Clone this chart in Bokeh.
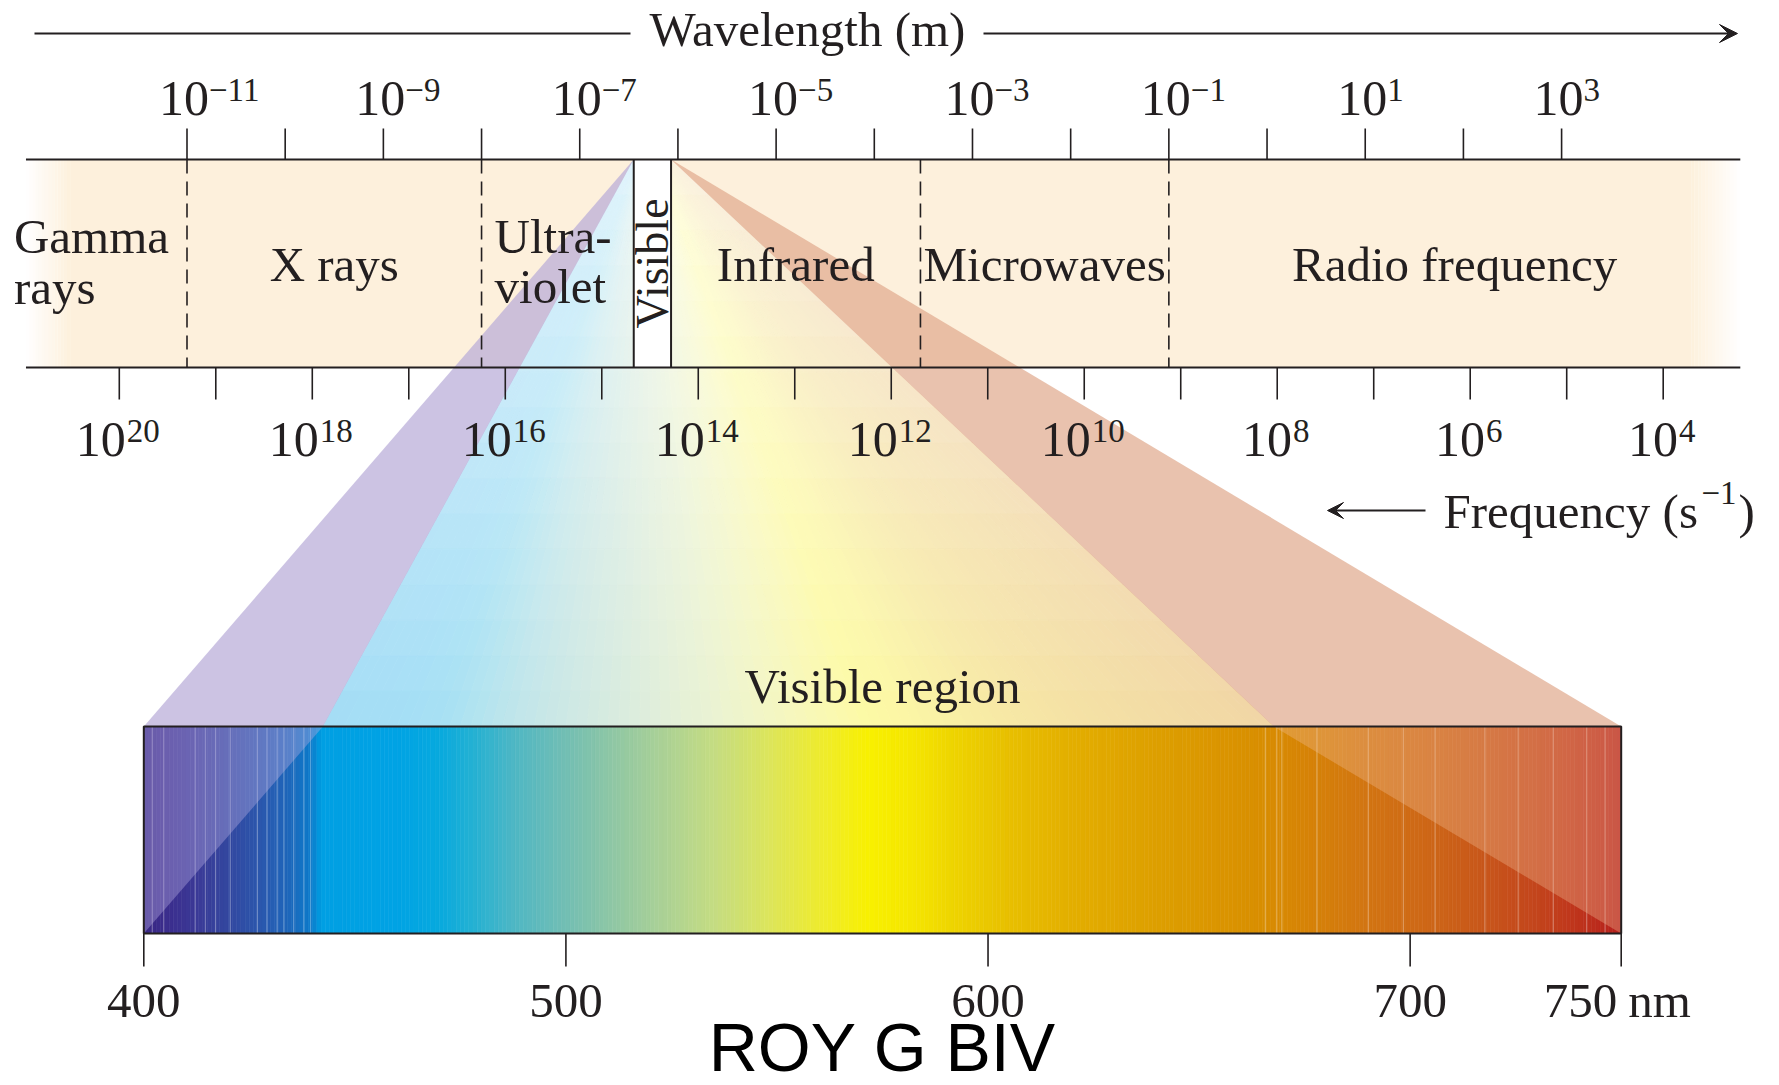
import numpy as np
from bokeh.plotting import figure
from bokeh.models import Range1d, ColumnDataSource, Arrow, VeeHead
from bokeh.core.properties import value
from bokeh.embed import file_html
from bokeh.resources import INLINE

# ---------------- chart data ----------------
wl_major = [-11, -9, -7, -5, -3, -1, 1, 3]            # log10 wavelength (m), labelled
wl_minor = [-10, -8, -6, -4, -2, 0, 2]                # log10 wavelength (m), unlabelled
fq_major = [20, 18, 16, 14, 12, 10, 8, 6, 4]         # log10 frequency (s^-1), labelled
fq_minor = [19, 17, 15, 13, 11, 9, 7, 5]
region_names = ["Gamma\nrays", "X rays", "Ultra-\nviolet", "Visible",
                "Infrared", "Microwaves", "Radio frequency"]
region_edges = [-12.64, -11.0, -8.0, -6.45, -6.07, -3.53, -1.0, 4.82]   # log10 m
nm_ticks = [400, 500, 600, 700, 750]
nm_labels = ["400", "500", "600", "700", "750"]
nm_unit = "nm"
spec_nm = [400, 405, 412, 420, 428, 435, 440, 442, 460, 470, 478, 488, 498, 510,
           522, 535, 548, 562, 572, 582, 592, 604, 620, 640, 662, 675, 690, 705,
           720, 735, 745, 750]
spec_hex = ["#3a2784", "#3b2d8c", "#3b3896", "#33479f", "#2a58ae", "#1c68bc", "#0a7ccb",
            "#009fe3", "#00a3e4", "#07a9de", "#24b1d3", "#4fb7c4", "#6dbdb6", "#8cc6a6",
            "#a9d097", "#c4dc82", "#dce55c", "#f0ec28", "#f8f000", "#f5e600", "#eed400",
            "#e8c100", "#e3ae00", "#dd9f00", "#d99000", "#d68406", "#d27412", "#cd6617",
            "#c7531b", "#c13d1c", "#bb2a1c", "#b41f1c"]
stripe_nm = [402.0, 404.7, 412.2, 414.6, 417.0, 420.5, 426.9, 429.2, 431.6, 433.2,
             435.5, 437.9, 439.5, 665.7, 668.4, 669.6, 677.9, 690.1, 698.4, 705.9,
             717.7, 725.6, 733.9, 741.8, 746.2]

# ---------------- layout ----------------
W, H = 1779, 1085
PX0, PX1 = 0, W
PY0, PY1 = 0, H
Y_WL_ARROW, Y_WL_TITLE = 33, 45
Y_TOP_LAB, Y_TOP_EXP = 115, 100
Y_TICK_TOP = 128
BAND_TOP, BAND_BOT = 159, 367
Y_TICK_BOT = 399
Y_BOT_LAB, Y_BOT_EXP = 456, 441
Y_FQ_ARROW, Y_FQ_TITLE, Y_FQ_EXP = 510, 527, 503
Y_VIS_TITLE = 702
RECT_TOP, RECT_BOT = 726, 933
Y_NM_TICK = 966
Y_NM_LAB = 1016
Y_ROY = 1069

INK = "#231f20"
PEACH = "#fdf0dc"
SERIF = value("Liberation Serif")
FS, OFF = "49px", -16
FS_BASE, OFF_BASE = "50px", -17
FS_EXP, OFF_EXP = "33px", -11


def calibrated(px_a, v_a, px_b, v_b):
    k = (v_b - v_a) / (px_b - px_a)
    return Range1d(start=v_a + (PX0 - px_a) * k, end=v_a + (PX1 - px_a) * k)


wl_rng = calibrated(186.5, -11, 1561.1, 3)
fq_rng = calibrated(118.8, 20, 1662.7, 4)
nm_rng = calibrated(143.3, 400, 1620.7, 750)


def to_px(v, r):
    return PX0 + (v - r.start) / (r.end - r.start) * (PX1 - PX0)


def from_px(x, r):
    return r.start + (x - PX0) / (PX1 - PX0) * (r.end - r.start)


def hex_rgb(h):
    return np.array([int(h[i:i + 2], 16) for i in (1, 3, 5)], float)


spec_rgb = np.array([hex_rgb(h) for h in spec_hex])


def spec_color(nm, white=0.0):
    c = np.array([np.interp(nm, spec_nm, spec_rgb[:, j]) for j in range(3)])
    c = c * (1 - white) + 255 * white
    return "#%02x%02x%02x" % tuple(int(round(v)) for v in c)


p = figure(width=W, height=H, x_range=Range1d(PX0, PX1), y_range=Range1d(PY1, PY0),
           x_axis_location=None, y_axis_location=None, toolbar_location=None,
           output_backend="svg", min_border=0, outline_line_color=None,
           background_fill_color="white", border_fill_color="white")
p.extra_x_ranges = {"wl": wl_rng, "fq": fq_rng, "nm": nm_rng}
p.xgrid.visible = False
p.ygrid.visible = False

# ---- band fill with faded ends ----
b0, b1 = region_edges[0], region_edges[-1]
fl_w, fr_w, nf = 0.45, 0.5, 14
ql, qr, qa = [b0 + fl_w], [b1 - fr_w], [1.0]
for i in range(nf):
    ql.append(b0 + fl_w * i / nf); qr.append(b0 + fl_w * (i + 1) / nf); qa.append((i + 0.5) / nf)
    ql.append(b1 - fr_w * (i + 1) / nf); qr.append(b1 - fr_w * i / nf); qa.append((i + 0.5) / nf)
p.quad(left=ql, right=qr, top=BAND_TOP, bottom=BAND_BOT, fill_color=PEACH,
       fill_alpha=qa, line_color=None, x_range_name="wl")

# ---- visible spectrum rectangle ----
nm_l = np.arange(nm_ticks[0], nm_ticks[-1], 1.0)
nm_cols = [spec_color(v + 0.5) for v in nm_l]
p.quad(left=list(nm_l), right=list(nm_l + 1), top=RECT_TOP, bottom=RECT_BOT,
       fill_color=nm_cols, line_color=nm_cols, line_width=0.6, x_range_name="nm")
p.segment(x0=stripe_nm, x1=stripe_nm, y0=RECT_TOP, y1=RECT_BOT, line_color="white",
          line_alpha=0.3, line_width=1.2, x_range_name="nm")

# ---- fan from the visible band to the spectrum ----
vl, vr = to_px(region_edges[3], wl_rng), to_px(region_edges[4], wl_rng)
rx0, rx1 = to_px(nm_ticks[0], nm_rng), to_px(nm_ticks[-1], nm_rng)
tf = (RECT_TOP - BAND_BOT) / (RECT_BOT - BAND_BOT)
fl = vl + (rx0 - vl) * tf
fr = vr + (rx1 - vr) * tf
N, K = 90, 16
sx, sy, sc = [], [], []
for i in range(N):
    s0, s1 = i / N, (i + 1) / N
    t_a, t_b = vl + (vr - vl) * s0, vl + (vr - vl) * s1
    b_a, b_b = fl + (fr - fl) * s0, fl + (fr - fl) * s1
    nm_mid = from_px((b_a + b_b) / 2, nm_rng)
    for k in range(K):
        u0, u1 = k / K, (k + 1) / K
        y0 = BAND_TOP + (RECT_TOP - BAND_TOP) * u0
        y1 = BAND_TOP + (RECT_TOP - BAND_TOP) * u1
        sx.append([t_a + (b_a - t_a) * u0, t_b + (b_b - t_b) * u0,
                   t_b + (b_b - t_b) * u1, t_a + (b_a - t_a) * u1])
        sy.append([y0, y0, y1, y1])
        sc.append(spec_color(nm_mid, 0.88 - 0.24 * (u0 + u1) / 2))
p.patches(xs=sx, ys=sy, fill_color=sc, line_color=sc, line_width=0.8)

p.patch(x=[vl, rx0, fl], y=[BAND_TOP, RECT_TOP, RECT_TOP], fill_color="#b8acd8",
        fill_alpha=0.72, line_color=None)
p.patch(x=[rx0, rx0, fl], y=[RECT_TOP, RECT_BOT, RECT_TOP], fill_color="#b4aae1",
        fill_alpha=0.4, line_color=None)
p.patch(x=[vr, rx1, fr], y=[BAND_TOP, RECT_TOP, RECT_TOP], fill_color="#e0a88c",
        fill_alpha=0.7, line_color=None)
p.patch(x=[rx1, rx1, fr], y=[RECT_TOP, RECT_BOT, RECT_TOP], fill_color="#f0be96",
        fill_alpha=0.35, line_color=None)

# ---- visible slot in the band ----
p.quad(left=[region_edges[3]], right=[region_edges[4]], top=BAND_TOP, bottom=BAND_BOT,
       fill_color="white", line_color=None, x_range_name="wl")
p.segment(x0=region_edges[3:5], x1=region_edges[3:5], y0=BAND_TOP, y1=BAND_BOT,
          line_color=INK, line_width=2, x_range_name="wl")

# ---- band outline and region boundaries ----
p.segment(x0=[b0, b0], x1=[b1, b1], y0=[BAND_TOP, BAND_BOT], y1=[BAND_TOP, BAND_BOT],
          line_color=INK, line_width=2.2, x_range_name="wl")
dashed = [region_edges[1], region_edges[2], region_edges[5], region_edges[6]]
p.segment(x0=dashed, x1=dashed, y0=BAND_TOP, y1=BAND_BOT, line_color=INK,
          line_width=1.6, line_dash="14 8", x_range_name="wl")

# ---- wavelength axis (top) ----
wl_all = wl_major + wl_minor
p.segment(x0=wl_all, x1=wl_all, y0=Y_TICK_TOP, y1=BAND_TOP, line_color=INK,
          line_width=1.6, x_range_name="wl")
p.text(x=wl_major, y=Y_TOP_LAB, text=["10"] * len(wl_major), x_offset=-3, y_offset=OFF_BASE,
       text_align="center", text_baseline="alphabetic", text_font=SERIF,
       text_font_size=FS_BASE, text_color=INK, x_range_name="wl")
p.text(x=wl_major, y=Y_TOP_EXP, text=[str(v).replace("-", "\u2212") for v in wl_major],
       x_offset=22, y_offset=OFF_EXP, text_align="left", text_baseline="alphabetic",
       text_font=SERIF, text_font_size=FS_EXP, text_color=INK, x_range_name="wl")

# ---- frequency axis (bottom of band) ----
fq_all = fq_major + fq_minor
p.segment(x0=fq_all, x1=fq_all, y0=BAND_BOT, y1=Y_TICK_BOT, line_color=INK,
          line_width=1.6, x_range_name="fq")
fq_exp = [str(v) for v in fq_major]
fq_off = [25 - 8.25 * len(e) - 2 for e in fq_exp]
fsrc = ColumnDataSource(dict(x=fq_major, b=["10"] * len(fq_major), e=fq_exp,
                             o=fq_off, o2=[v + 1 for v in fq_off]))
p.text(source=fsrc, x="x", y=Y_BOT_LAB, text="b", x_offset="o", y_offset=OFF_BASE,
       text_align="right", text_baseline="alphabetic", text_font=SERIF,
       text_font_size=FS_BASE, text_color=INK, x_range_name="fq")
p.text(source=fsrc, x="x", y=Y_BOT_EXP, text="e", x_offset="o2", y_offset=OFF_EXP,
       text_align="left", text_baseline="alphabetic", text_font=SERIF,
       text_font_size=FS_EXP, text_color=INK, x_range_name="fq")

# ---- region labels ----
mid = lambda i: (region_edges[i] + region_edges[i + 1]) / 2
g1, g2 = region_names[0].split("\n")
u1, u2 = region_names[2].split("\n")
p.text(x=[b0, b0], y=[252, 303], text=[g1, g2], x_offset=-12, y_offset=OFF,
       text_align="left", text_baseline="alphabetic", text_font=SERIF,
       text_font_size=FS, text_color=INK, x_range_name="wl")
p.text(x=[region_edges[2], region_edges[2]], y=[252, 302], text=[u1, u2], x_offset=13,
       y_offset=OFF, text_align="left", text_baseline="alphabetic", text_font=SERIF,
       text_font_size=FS, text_color=INK, x_range_name="wl")
ci = [1, 4, 5, 6]
p.text(x=[mid(i) for i in ci], y=280, text=[region_names[i] for i in ci], y_offset=OFF,
       text_align="center", text_baseline="alphabetic", text_font=SERIF,
       text_font_size=FS, text_color=INK, x_range_name="wl")
p.text(x=[mid(3)], y=[(BAND_TOP + BAND_BOT) / 2], text=[region_names[3]], angle=np.pi / 2,
       text_align="center", text_baseline="middle", text_font=SERIF,
       text_font_size="46px", text_color=INK, x_range_name="wl")

# ---- axis titles ----
p.segment(x0=[34], x1=[630], y0=Y_WL_ARROW, y1=Y_WL_ARROW, line_color=INK, line_width=2.2)
p.add_layout(Arrow(end=VeeHead(size=18, fill_color=INK, line_color=INK),
                   x_start=983, y_start=Y_WL_ARROW, x_end=1737, y_end=Y_WL_ARROW,
                   line_color=INK, line_width=2.2))
p.text(x=[807], y=[Y_WL_TITLE], text=["Wavelength (m)"], y_offset=OFF, text_align="center",
       text_baseline="alphabetic", text_font=SERIF, text_font_size=FS, text_color=INK)

p.add_layout(Arrow(end=VeeHead(size=16, fill_color=INK, line_color=INK),
                   x_start=1425, y_start=Y_FQ_ARROW, x_end=1327, y_end=Y_FQ_ARROW,
                   line_color=INK, line_width=2.0))
p.text(x=[1443, 1738], y=[Y_FQ_TITLE, Y_FQ_TITLE], text=["Frequency (s", ")"],
       y_offset=OFF, text_align="left", text_baseline="alphabetic", text_font=SERIF,
       text_font_size=FS, text_color=INK)
p.text(x=[1701], y=[Y_FQ_EXP], text=["\u22121"], y_offset=OFF_EXP, text_align="left",
       text_baseline="alphabetic", text_font=SERIF, text_font_size=FS_EXP, text_color=INK)

# ---- spectrum outline, nm axis ----
p.quad(left=[nm_ticks[0]], right=[nm_ticks[-1]], top=RECT_TOP, bottom=RECT_BOT,
       fill_color=None, line_color=INK, line_width=2, x_range_name="nm")
p.segment(x0=nm_ticks, x1=nm_ticks, y0=RECT_BOT, y1=Y_NM_TICK, line_color=INK,
          line_width=1.6, x_range_name="nm")
p.text(x=nm_ticks[:-1], y=Y_NM_LAB, text=nm_labels[:-1], y_offset=OFF, text_align="center",
       text_baseline="alphabetic", text_font=SERIF, text_font_size=FS,
       text_color=INK, x_range_name="nm")
p.text(x=[nm_ticks[-1]], y=[Y_NM_LAB], text=[nm_labels[-1]], x_offset=-4, y_offset=OFF,
       text_align="right", text_baseline="alphabetic", text_font=SERIF,
       text_font_size=FS, text_color=INK, x_range_name="nm")
p.text(x=[nm_ticks[-1]], y=[Y_NM_LAB], text=[nm_unit], x_offset=7, y_offset=OFF,
       text_align="left", text_baseline="alphabetic", text_font=SERIF,
       text_font_size=FS, text_color=INK, x_range_name="nm")

nm_mid_all = (nm_ticks[0] + nm_ticks[-1]) / 2
p.text(x=[nm_mid_all], y=[Y_VIS_TITLE], text=["Visible region"], y_offset=OFF,
       text_align="center", text_baseline="alphabetic", text_font=SERIF,
       text_font_size=FS, text_color=INK, x_range_name="nm")
p.text(x=[nm_mid_all], y=[Y_ROY], text=["ROY G BIV"], y_offset=-23, text_align="center",
       text_baseline="alphabetic", text_font=value("Liberation Sans"), text_font_size="68px",
       text_color="black", x_range_name="nm")

open("out.html", "w").write(file_html(p, INLINE))
